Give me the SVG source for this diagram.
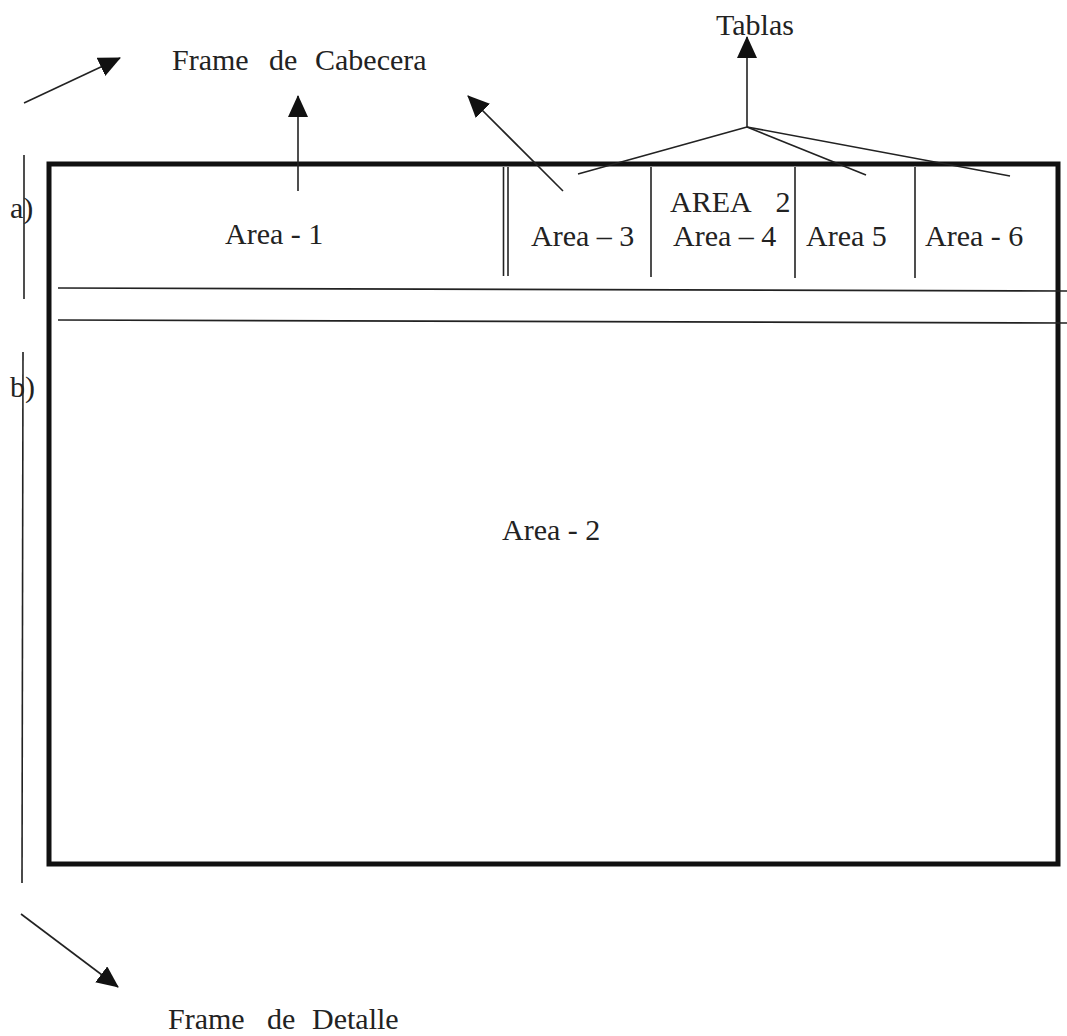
<svg xmlns="http://www.w3.org/2000/svg" width="1067" height="1036" viewBox="0 0 1067 1036">
<style>
text{font-family:"Liberation Serif","Times New Roman",serif;font-size:30px;fill:#222}
.thin{stroke:#222;stroke-width:1.6;fill:none}
.frame{stroke:#111;stroke-width:5;fill:none}
.arr{stroke:#222;stroke-width:1.6;fill:none;marker-end:url(#ah)}
</style>
<defs>
<marker id="ah" markerUnits="userSpaceOnUse" markerWidth="22" markerHeight="20" refX="21" refY="10" orient="auto" viewBox="0 0 22 20">
<path d="M0,0 L22,10 L0,20 z" fill="#111"/>
</marker>
</defs>
<rect width="1067" height="1036" fill="#fff"/>
<g id="frame">
<rect class="frame" x="49" y="164" width="1009" height="700"/>
<line class="thin" x1="58" y1="288" x2="1067" y2="291"/>
<line class="thin" x1="58" y1="320" x2="1067" y2="323"/>
<line class="thin" x1="503.5" y1="167" x2="503.5" y2="276"/>
<line class="thin" x1="508" y1="167" x2="508" y2="276"/>
<line class="thin" x1="651" y1="167" x2="651" y2="277"/>
<line class="thin" x1="795" y1="167" x2="795" y2="278"/>
<line class="thin" x1="915" y1="167" x2="915" y2="278"/>
</g>
<g id="area1"><text x="225" y="244">Area - 1</text></g>
<g id="area2header"><text x="670" y="212" word-spacing="18">AREA 2</text></g>
<g id="area3"><text x="531" y="246">Area – 3</text></g>
<g id="area4"><text x="673" y="246">Area – 4</text></g>
<g id="area5"><text x="806" y="246">Area 5</text></g>
<g id="area6"><text x="925" y="246">Area - 6</text></g>
<g id="area2"><text x="502" y="540">Area - 2</text></g>
<g id="labelA"><text x="10" y="218">a)</text></g>
<g id="labelB"><text x="10" y="397">b)</text></g>
<g id="frameCabecera"><text y="70"><tspan x="172">Frame</tspan><tspan x="269">de</tspan><tspan x="315">Cabecera</tspan></text></g>
<g id="tablas"><text x="716" y="35">Tablas</text></g>
<g id="frameDetalle"><text y="1029"><tspan x="168">Frame</tspan><tspan x="267">de</tspan><tspan x="312">Detalle</tspan></text></g>
<g id="connectors">
<line class="thin" x1="24" y1="155" x2="24" y2="299"/>
<line class="thin" x1="23" y1="352" x2="22" y2="883"/>
<line class="arr" x1="24" y1="103" x2="120" y2="58"/>
<line class="arr" x1="298" y1="191" x2="298" y2="96"/>
<line class="arr" x1="563" y1="191" x2="468" y2="96"/>
<line class="arr" x1="747" y1="127" x2="747" y2="37"/>
<line class="thin" x1="747" y1="127" x2="578" y2="174"/>
<line class="thin" x1="747" y1="127" x2="866" y2="175"/>
<line class="thin" x1="747" y1="127" x2="1010" y2="176"/>
<line class="arr" x1="21" y1="914" x2="118" y2="987"/>
</g>
</svg>
